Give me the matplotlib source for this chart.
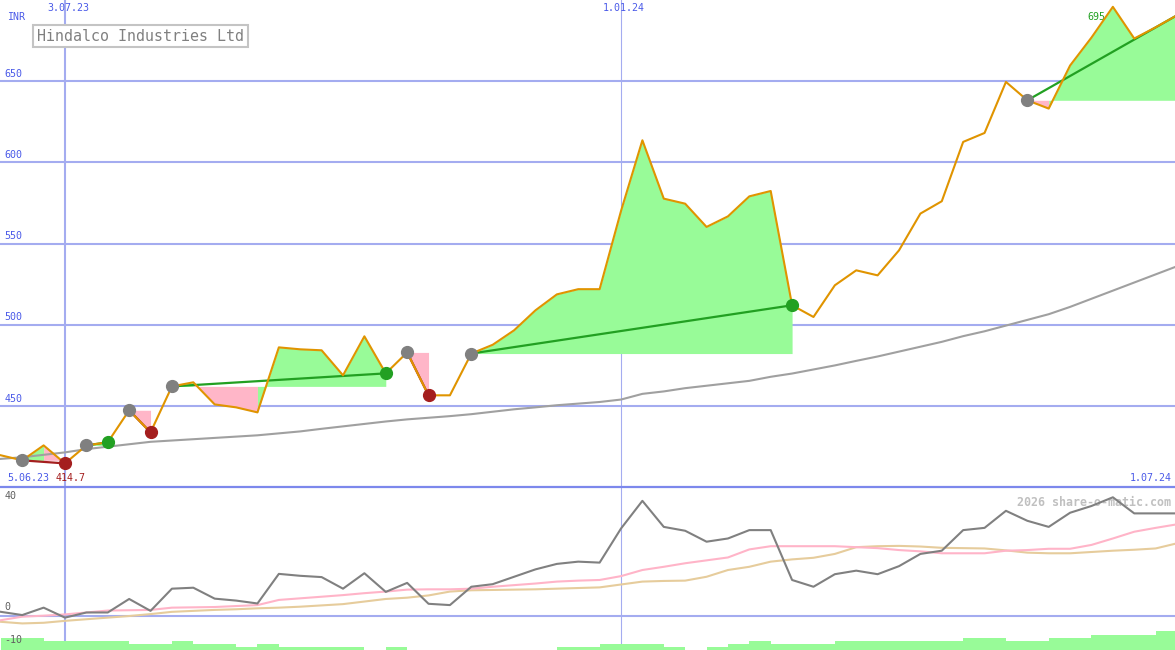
import numpy as np
import pandas as pd
import matplotlib
matplotlib.use("Agg")
import matplotlib.pyplot as plt
import matplotlib.dates as mdates
import matplotlib.transforms as mtransforms

# weekly closes, Hindalco (INR)
dates = pd.date_range("2023-06-12", periods=56, freq="7D")
price = [419.7, 416.6, 425.8, 414.7, 425.8, 427.7, 447.4, 433.8, 462.1, 464.6,
         451.0, 449.2, 446.1, 486.1, 484.9, 484.3, 468.9, 492.9, 470.1, 483.0,
         456.6, 456.6, 482.3, 487.7, 496.6, 508.9, 518.7, 521.9, 521.9, 570.0,
         613.5, 577.6, 574.5, 560.2, 566.7, 579.0, 582.3, 512.0, 504.8, 524.3,
         533.5, 530.4, 545.8, 568.4, 576.0, 612.5, 618.0, 649.4, 638.1, 633.0,
         659.5, 676.7, 695.6, 676.1, 683.0, 690.4]
ma = [417.5, 418.5, 420.0, 421.5, 423.5, 425.0, 426.5, 428.0, 428.8, 429.6,
      430.4, 431.2, 432.0, 433.2, 434.4, 436.0, 437.5, 439.0, 440.5, 441.8,
      442.8, 443.8, 445.0, 446.5, 448.0, 449.2, 450.5, 451.5, 452.5, 454.0,
      457.5, 459.0, 461.0, 462.5, 464.0, 465.5, 468.0, 470.0, 472.5, 475.0,
      477.8, 480.5, 483.5, 486.5, 489.5, 493.0, 496.0, 499.5, 503.0, 506.5,
      511.0, 516.0, 521.0, 526.0, 531.0, 536.0]

# signals: start index, end index (None = still open)
sig_start = [1, 4, 6, 8, 19, 22, 48]
sig_end = [3, 5, 7, 18, 20, 37, None]

# lower panel
osc = [1.2, 0.2, 2.5, -0.6, 1.0, 1.0, 5.2, 1.5, 8.4, 8.7,
       5.3, 4.7, 3.8, 13.0, 12.4, 12.0, 8.4, 13.2, 7.4, 10.2,
       3.7, 3.3, 9.0, 9.8, 12.1, 14.4, 16.1, 16.8, 16.5, 27.1,
       35.7, 27.6, 26.4, 23.0, 24.0, 26.6, 26.6, 11.1, 9.0, 12.9,
       14.0, 12.9, 15.4, 19.2, 20.2, 26.6, 27.3, 32.6, 29.5, 27.6,
       32.0, 34.1, 36.8, 31.8, 31.8, 31.8]
osc_fast = [-1.4, -0.3, 0.0, 0.4, 1.0, 1.6, 1.7, 1.8, 2.5, 2.6,
            2.7, 3.0, 3.3, 4.9, 5.4, 5.9, 6.4, 7.0, 7.5, 8.1,
            8.2, 8.2, 8.4, 9.0, 9.5, 10.0, 10.6, 10.9, 11.1, 12.3,
            14.2, 15.2, 16.3, 17.2, 18.1, 20.6, 21.6, 21.6, 21.6, 21.6,
            21.3, 21.0, 20.4, 20.0, 19.4, 19.4, 19.4, 20.2, 20.4, 20.8,
            20.8, 22.0, 24.0, 26.1, 27.3, 28.4]
osc_slow = [-1.9, -2.4, -2.2, -1.6, -1.1, -0.6, -0.1, 0.5, 1.2, 1.5,
            1.8, 2.0, 2.3, 2.5, 2.8, 3.2, 3.6, 4.4, 5.2, 5.6,
            6.3, 7.5, 7.9, 8.0, 8.1, 8.2, 8.4, 8.6, 8.8, 9.7,
            10.6, 10.8, 10.9, 12.1, 14.2, 15.2, 16.8, 17.5, 18.0, 19.2,
            21.3, 21.6, 21.7, 21.5, 21.1, 21.0, 20.9, 20.3, 19.6, 19.4,
            19.4, 19.8, 20.2, 20.5, 20.9, 22.5]
vol = [3.7, 3.7, 2.8, 2.8, 2.8, 2.8, 1.9, 1.9, 2.8, 1.9,
       1.9, 1.0, 1.9, 1.0, 1.0, 1.0, 1.0, 0.0, 1.0, 0.0,
       0.0, 0.0, 0.0, 0.0, 0.0, 0.0, 1.0, 1.0, 1.9, 1.9,
       1.9, 1.0, 0.0, 1.0, 1.9, 2.8, 1.9, 1.9, 1.9, 2.8,
       2.8, 2.8, 2.8, 2.8, 2.8, 3.7, 3.7, 2.8, 2.8, 3.7,
       3.7, 4.7, 4.7, 4.7, 5.9, 5.9]

price_ticks = [450, 500, 550, 600, 650]
osc_ticks = [40, 0, -10]
vlines = ["2023-07-03", "2024-01-01"]

# colours
grid_c = "#a4acf0"
sep_c = "#7c88ec"
lab_c = "#4a5ae8"
green = "#98fb98"
pink = "#ffb6c8"
dgreen = "#22a022"
dred = "#a41e1e"
orange = "#e09400"
gray = "#808080"

plt.rcParams["font.family"] = ["DejaVu Sans Mono"]

x = mdates.date2num(dates)
p = np.array(price)
xl = mdates.date2num(pd.Timestamp("2023-07-03")) - 65 / 3.055
xr = xl + 1175 / 3.055

fig = plt.figure(figsize=(11.75, 6.5), dpi=100)
ax = fig.add_axes([0, 163 / 650, 1, 487 / 650])
ax2 = fig.add_axes([0, 0, 1, 163 / 650])
for a in (ax, ax2):
    a.set_xlim(xl, xr)
    a.set_xticks([])
    a.set_yticks([])
    for s in a.spines.values():
        s.set_visible(False)
    a.set_facecolor("white")
ax.set_ylim(400.2, 699.8)
ax2.set_ylim(-10.66, 40)
ax2.spines["top"].set_visible(True)
ax2.spines["top"].set_color(sep_c)
ax2.spines["top"].set_linewidth(1.6)

# grid
for v in price_ticks:
    ax.axhline(v, color=grid_c, lw=1.5, zorder=1)
ax2.axhline(0, color=grid_c, lw=1.5, zorder=1)
for d, lw in zip(vlines, [1.5, 0.8]):
    for a in (ax, ax2):
        a.axvline(mdates.date2num(pd.Timestamp(d)), color=grid_c, lw=lw, zorder=1)

# max label sits under the fills
imax = int(np.argmax(p))
ax.annotate("%.1f" % p[imax], (x[imax], 699.8), xytext=(-18, -9), textcoords="offset points",
            color=dgreen, fontsize=7.2, va="top", ha="left", zorder=1.5)

# signal fills (one polygon per run of same colour) and trend lines
for s, e in zip(sig_start, sig_end):
    last = e if e is not None else len(p) - 1
    lvl = p[s]
    up = [p[k + 1] >= lvl for k in range(s, last)]
    a0 = s
    for k in range(s, last):
        j = k - s
        if j == len(up) - 1 or up[j + 1] != up[j]:
            ax.fill_between(x[a0:k + 2], p[a0:k + 2], lvl, color=green if up[j] else pink,
                            lw=0, zorder=2)
            a0 = k + 1
    lc = dgreen if p[last] >= lvl else dred
    ax.plot([x[s], x[last]], [lvl, p[last]], color=lc, lw=1.6, zorder=3)

ax.plot(x, ma, color="#a0a0a0", lw=1.5, zorder=3)
ax.plot(x, p, color=orange, lw=1.5, zorder=4)

for s, e in zip(sig_start, sig_end):
    ax.plot(x[s], p[s], "o", ms=8.5, color=gray, mec=gray, zorder=5)
    if e is not None:
        c = dgreen if p[e] >= p[s] else dred
        ax.plot(x[e], p[e], "o", ms=8.5, color=c, mec=c, zorder=5)

# price axis labels
yt = mtransforms.blended_transform_factory(ax.transAxes, ax.transData)
for v in price_ticks:
    ax.text(0.004, v + 1.5, str(v), transform=yt, color=lab_c, fontsize=7.2, va="bottom", ha="left")
ax.text(0.006, 0.965, "INR", transform=ax.transAxes, color=lab_c, fontsize=7.2, va="center")
for d in vlines:
    xt = mtransforms.blended_transform_factory(ax.transData, ax.transAxes)
    ts = pd.Timestamp(d)
    ax.text(mdates.date2num(ts) + 1, 0.994, "%d.%s" % (ts.day, ts.strftime("%m.%y")), transform=xt,
            color=lab_c, fontsize=7.2, va="top", ha="center")
ax.text(0.006, 0.008, "5.06.23", transform=ax.transAxes, color=lab_c, fontsize=7.2, va="bottom")
imin = int(np.argmin(p))
ax.text(0.047, 0.008, "%.1f" % p[imin], transform=ax.transAxes, color=dred, fontsize=7.2, va="bottom")
ax.text(0.997, 0.008, "1.07.24", transform=ax.transAxes, color=lab_c, fontsize=7.2, va="bottom", ha="right")

ax.text(0.1196, 0.926, "Hindalco Industries Ltd", transform=ax.transAxes, color="#808080",
        fontsize=10.8, ha="center", va="center",
        bbox=dict(boxstyle="square,pad=0.25", fc="white", ec="#c4c4c4", lw=1.5))

# lower panel
ax2.fill_between(x, -10.66, np.array(vol) - 10.66, step="post", color=green, lw=0, zorder=1.2)
ax2.plot(x, osc_slow, color="#e6cc9c", lw=1.5, zorder=3)
ax2.plot(x, osc_fast, color="#ffb4c8", lw=1.5, zorder=3)
ax2.plot(x, osc, color="#808080", lw=1.5, zorder=4)
yt2 = mtransforms.blended_transform_factory(ax2.transAxes, ax2.transData)
for v, dy in zip(osc_ticks, [-4.2, 1.2, 0.8]):
    ax2.text(0.004, v + dy, str(v), transform=yt2, color="#606060", fontsize=7.2, va="bottom", ha="left")
ax2.text(0.997, 0.905, "2026 share-o-matic.com", transform=ax2.transAxes, color="#c0c0c0",
         fontsize=8.4, fontweight="bold", ha="right", va="center")

fig.savefig("out.png", dpi=100)
